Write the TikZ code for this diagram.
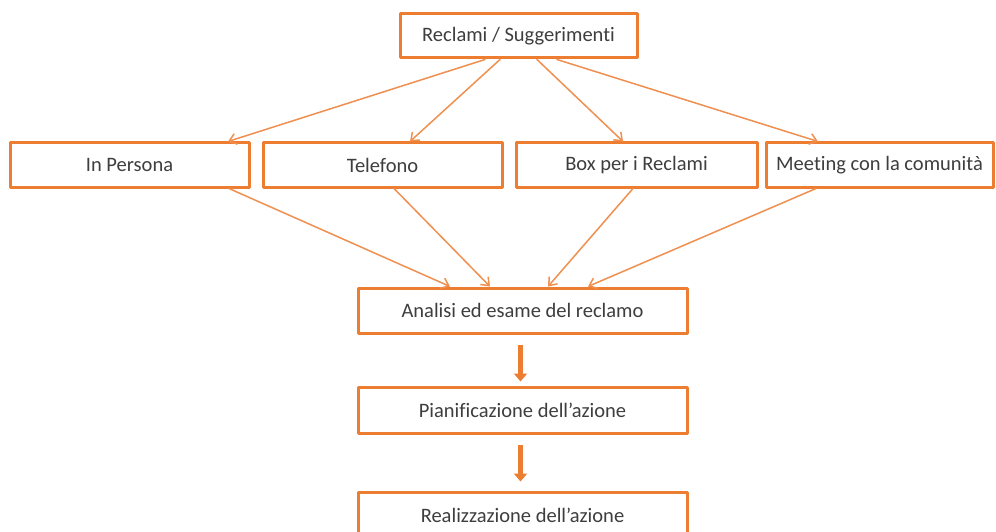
\documentclass[tikz,border=0pt]{standalone}
\usepackage{fontspec}
\setmainfont{Carlito}[Ligatures=NoCommon]
\usepackage{tikz}
\usetikzlibrary{positioning}
\usepackage{xcolor}
\usetikzlibrary{calc}
\usetikzlibrary{arrows.meta, positioning}

\definecolor{officeorange}{RGB}{237,125,49}
\definecolor{textgray}{RGB}{62,62,62}

\begin{document}
\begin{tikzpicture}[x=1pt, y=-1pt, line cap=round, line join=round,
    box/.style={draw=officeorange, line width=3pt, fill=white, inner sep=0pt,
        minimum height=44pt, text=textgray, font=\fontsize{20.5}{24}\selectfont},
    link/.style={draw=officeorange!85, line width=1.5pt,
        -{Straight Barb[length=7pt, width=11pt, line width=1.5pt]}},
    bigarrow/.style={draw=officeorange, line width=4.5pt, line cap=butt,
        -{Triangle[length=8pt, width=13pt]}}]
    % page frame
    \path[use as bounding box, fill=white] (0,0) rectangle (996,532);
    \clip (0,0) rectangle (996,532);

    % source box
    \node[box, minimum width=237pt] (reclami) at (518.5,36) {Reclami / Suggerimenti};

    % channels
    \node[box, minimum width=239pt] (persona)  at (129.5,165) {In Persona};
    \node[box, minimum width=239pt] (telefono) at (382.5,165) {Telefono};
    \node[box, minimum width=241pt] (boxrecl)  at (636.5,165) {Box per i Reclami};
    \node[box, minimum width=227pt] (meeting)  at (879.5,165) {Meeting con la comunità};

    % process steps
    \node[box, minimum width=329pt, minimum height=45pt] (analisi) at (522.5,310.5) {Analisi ed esame del reclamo};
    \node[box, minimum width=329pt, minimum height=46pt] (piano)   at (522.5,410)   {Pianificazione dell’azione};
    \node[box, minimum width=329pt, minimum height=46pt] (azione)  at (522.5,515)   {Realizzazione dell’azione};

    % source -> channels
    \draw[link] ([xshift=-33.5pt]reclami.south) -- ([xshift=98.5pt]persona.north);
    \draw[link] ([xshift=-18.5pt]reclami.south) -- ([xshift=27.5pt]telefono.north);
    \draw[link] ([xshift=18.5pt]reclami.south)  -- ([xshift=-13.5pt]boxrecl.north);
    \draw[link] ([xshift=38.5pt]reclami.south)  -- ([xshift=-61.5pt]meeting.north);

    % channels -> analysis
    \draw[link] ([xshift=99.5pt]persona.south)  -- ([xshift=-72.5pt]analisi.north);
    \draw[link] ([xshift=11.5pt]telefono.south) -- ([xshift=-32.5pt]analisi.north);
    \draw[link] ([xshift=-3.5pt]boxrecl.south)  -- ([xshift=25.5pt]analisi.north);
    \draw[link] ([xshift=-63.5pt]meeting.south) -- ([xshift=65.5pt]analisi.north);

    % steps
    \draw[bigarrow, shorten <=10pt, shorten >=4pt] ([xshift=-2pt]analisi.south) -- ([xshift=-2pt]piano.north);
    \draw[bigarrow, shorten <=10pt, shorten >=9pt] ([xshift=-2pt]piano.south) -- ([xshift=-2pt]azione.north);
\end{tikzpicture}
\end{document}
